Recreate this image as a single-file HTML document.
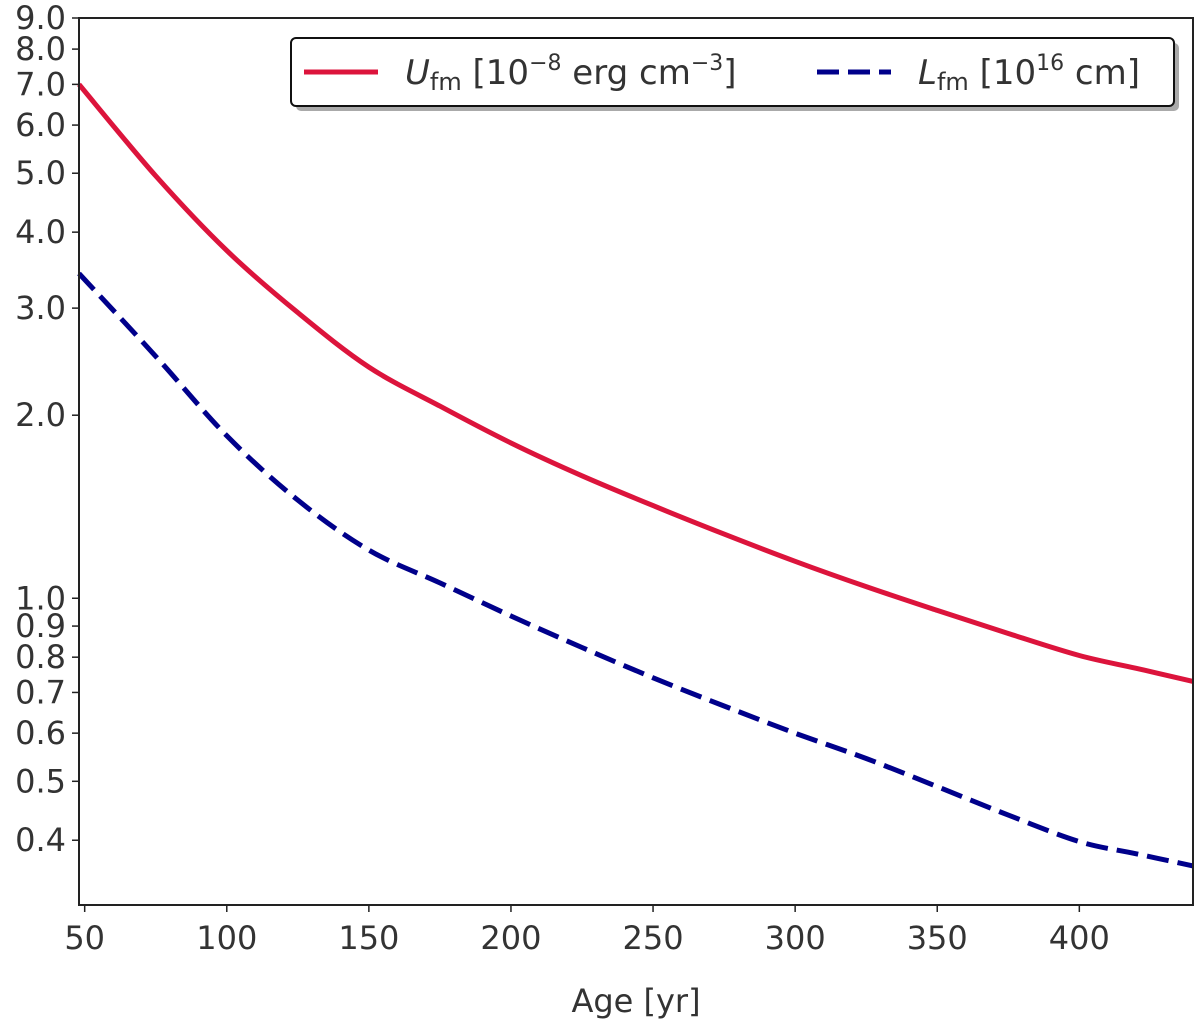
<!DOCTYPE html>
<html><head><meta charset="utf-8"><style>
body{margin:0;background:#fff;}
svg text{font-family:"DejaVu Sans","Liberation Sans",sans-serif;fill:#333;}
</style></head><body>
<svg id="chart" width="1200" height="1029">
<g id="plot"></g>
</svg>
<script>
const xs = [48,75,100,125,150,175,200,225,250,275,300,325,350,375,400,420,440];
const uValues = [7.0,4.95,3.73,2.95,2.40,2.07,1.80,1.59,1.42,1.275,1.15,1.045,0.955,0.875,0.805,0.767,0.73];
const lValues = [3.42,2.50,1.85,1.45,1.20,1.06,0.935,0.83,0.74,0.665,0.60,0.545,0.49,0.44,0.398,0.38,0.363];
const xTicks = [50,100,150,200,250,300,350,400];
const yTicks = [0.4,0.5,0.6,0.7,0.8,0.9,1.0,2.0,3.0,4.0,5.0,6.0,7.0,8.0,9.0];
const L=79,R=1193,T=18,B=905, xMin=48,xMax=440, yMin=0.313,yMax=9.0;
const X=v=>L+(v-xMin)/(xMax-xMin)*(R-L);
const Y=v=>B-(Math.log10(v)-Math.log10(yMin))/(Math.log10(yMax)-Math.log10(yMin))*(B-T);
const NS="http://www.w3.org/2000/svg";
const g=document.getElementById('plot');
function mk(tag,attrs,parent){const e=document.createElementNS(NS,tag);for(const k in attrs)e.setAttribute(k,attrs[k]);(parent||g).appendChild(e);return e;}
function pathFor(vals){
  const p=vals.map((v,i)=>[X(xs[i]),Y(v)]);
  let d='M'+p[0][0].toFixed(1)+','+p[0][1].toFixed(1);
  for(let i=0;i<p.length-1;i++){
    const p0=p[Math.max(0,i-1)],p1=p[i],p2=p[i+1],p3=p[Math.min(p.length-1,i+2)];
    const c1=[p1[0]+(p2[0]-p0[0])/6,p1[1]+(p2[1]-p0[1])/6];
    const c2=[p2[0]-(p3[0]-p1[0])/6,p2[1]-(p3[1]-p1[1])/6];
    d+=' C'+c1.map(n=>n.toFixed(1)).join(',')+' '+c2.map(n=>n.toFixed(1)).join(',')+' '+p2.map(n=>n.toFixed(1)).join(',');
  }
  return d;
}
let e;
e=mk('path',{d:pathFor(uValues),fill:'none',stroke:'#dc143c','stroke-width':5});


e=mk('path',{d:pathFor(lValues),fill:'none',stroke:'#00008b','stroke-width':5,'stroke-dasharray':'22,9'});


e=mk('rect',{x:L,y:T,width:R-L,height:B-T,fill:'none',stroke:'#222','stroke-width':2});


xTicks.forEach(t=>{
  mk('line',{x1:X(t),x2:X(t),y1:B,y2:B+7,stroke:'#222','stroke-width':1.5});
  e=mk('text',{x:X(t),y:B+44,'text-anchor':'middle','font-size':32});
  e.textContent=t;
  
  
});
yTicks.forEach(t=>{
  mk('line',{x1:L-7,x2:L,y1:Y(t),y2:Y(t),stroke:'#222','stroke-width':1.5});
  e=mk('text',{x:L-13,y:Y(t)+11,'text-anchor':'end','font-size':32});
  e.textContent=t.toFixed(1);
  
  
});
e=mk('text',{x:636,y:1012,'text-anchor':'middle','font-size':32});
e.textContent='Age [yr]';


// legend
const lg=mk('g',{});


mk('rect',{x:296,y:43,width:883,height:68,rx:5,fill:'#aaa'},lg);
mk('rect',{x:291,y:38,width:883,height:68,rx:5,fill:'#fff',stroke:'#111','stroke-width':2},lg);
mk('line',{x1:304,x2:378,y1:72,y2:72,stroke:'#dc143c','stroke-width':5},lg);
mk('line',{x1:817,x2:891,y1:72,y2:72,stroke:'#00008b','stroke-width':5,'stroke-dasharray':'22,9'},lg);
e=mk('text',{x:405,y:84,'font-size':34},lg);
e.innerHTML='<tspan font-style="italic">U</tspan><tspan font-size="24" dy="6">fm</tspan><tspan dy="-6"> [10</tspan><tspan font-size="22" dy="-14">−8</tspan><tspan dy="14"> erg cm</tspan><tspan font-size="22" dy="-14">−3</tspan><tspan dy="14">]</tspan>';


e=mk('text',{x:918,y:84,'font-size':34},lg);
e.innerHTML='<tspan font-style="italic">L</tspan><tspan font-size="24" dy="6">fm</tspan><tspan dy="-6"> [10</tspan><tspan font-size="22" dy="-14">16</tspan><tspan dy="14"> cm]</tspan>';


</script>
</body></html>
